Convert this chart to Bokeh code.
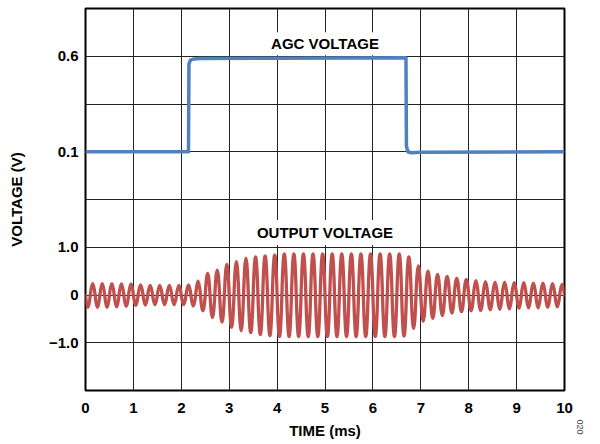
import numpy as np
from bokeh.plotting import figure
from bokeh.models import Range1d, FixedTicker, Label, ColumnDataSource, Title
from bokeh.embed import file_html
from bokeh.resources import INLINE

# ---------------- data ----------------
time_ticks = [0, 1, 2, 3, 4, 5, 6, 7, 8, 9, 10]

out_tick_values = [-1.0, 0.0, 1.0]
out_tick_labels = ["\u22121.0", "0", "1.0"]
agc_tick_values = [0.1, 0.6]
agc_tick_labels = ["0.1", "0.6"]

# AGC voltage trace (ms, V)
agc_time = [0.0, 2.15, 2.16, 2.19, 2.25, 2.4, 4.0, 6.69, 6.70, 6.73, 6.8, 7.0, 10.0]
agc_volt = [0.1, 0.1, 0.56, 0.58, 0.585, 0.588, 0.59, 0.592, 0.13, 0.10, 0.095, 0.097, 0.1]

# Output voltage: 5 kHz carrier, one trough then one peak per 0.2 ms cycle (V)
carrier_period_ms = 0.2
out_troughs = [0.26, 0.26, 0.26, 0.25, 0.24, 0.22, 0.21, 0.20, 0.20, 0.20,
               0.20, 0.23, 0.33, 0.47, 0.57, 0.68, 0.75, 0.79, 0.83, 0.85,
               0.87, 0.87, 0.87, 0.87, 0.87, 0.87, 0.87, 0.87, 0.87, 0.87,
               0.87, 0.87, 0.87, 0.86, 0.70, 0.55, 0.49, 0.43, 0.38, 0.35,
               0.33, 0.32, 0.31, 0.30, 0.29, 0.28, 0.27, 0.27, 0.26, 0.25]
out_peaks = [0.24, 0.24, 0.24, 0.23, 0.23, 0.21, 0.20, 0.20, 0.20, 0.20,
             0.21, 0.29, 0.45, 0.52, 0.64, 0.70, 0.77, 0.80, 0.82, 0.84,
             0.86, 0.86, 0.86, 0.86, 0.86, 0.86, 0.86, 0.86, 0.86, 0.86,
             0.86, 0.86, 0.86, 0.80, 0.61, 0.50, 0.43, 0.39, 0.35, 0.32,
             0.30, 0.28, 0.27, 0.27, 0.26, 0.26, 0.25, 0.25, 0.24, 0.22]

out_range = (-2.0, 6.0)     # output voltage scale (1 V/div)
agc_range = (-1.15, 0.85)   # AGC voltage scale (0.25 V/div)
time_range = (0.0, 10.0)

# ---------------- styling ----------------
FONT = "Liberation Sans"
BLUE = "#4F81BD"
RED = "#C0504D"

p = figure(width=600, height=444, output_backend="svg", toolbar_location=None,
           x_range=Range1d(*time_range), y_range=Range1d(*out_range),
           min_border_left=85, min_border_right=36, min_border_top=8,
           min_border_bottom=54)
p.extra_y_ranges = {"agc": Range1d(*agc_range)}
p.background_fill_color = "white"
p.border_fill_color = "white"
p.outline_line_color = "black"
p.outline_line_width = 2

# half-cycle segments of the output waveform (quadratic curves)
half = carrier_period_ms / 2
x0, x1, cx, cy = [], [], [], []
for k, (q, pk) in enumerate(zip(out_troughs, out_peaks)):
    t = k * carrier_period_ms
    for sgn, amp, start in ((-1, q, t), (1, pk, t + half)):
        x0.append(start)
        x1.append(start + half)
        cx.append(start + half / 2)
        cy.append(2 * sgn * amp)
src = ColumnDataSource(dict(x0=x0, x1=x1, cx=cx, cy=cy,
                            y0=[0.0] * len(x0), y1=[0.0] * len(x0)))
p.quadratic(x0="x0", y0="y0", x1="x1", y1="y1", cx="cx", cy="cy", source=src,
            line_color=RED, line_width=3.3, line_cap="round")

p.line(agc_time, agc_volt, y_range_name="agc", line_color=BLUE, line_width=3.5,
       line_join="round")

# axes
def to_out(v):
    a0, a1 = agc_range
    o0, o1 = out_range
    return (v - a0) / (a1 - a0) * (o1 - o0) + o0

ytick_pos = list(out_tick_values) + [to_out(v) for v in agc_tick_values]
ytick_lab = list(out_tick_labels) + list(agc_tick_labels)

yax = p.yaxis[0]
yax.ticker = FixedTicker(ticks=ytick_pos)
yax.major_label_overrides = {float(k) if not float(k).is_integer() else int(k): v
                             for k, v in zip(ytick_pos, ytick_lab)}
xax = p.xaxis[0]
xax.ticker = FixedTicker(ticks=time_ticks)

for ax in (xax, yax):
    ax.axis_line_color = None
    ax.major_tick_line_color = None
    ax.minor_tick_line_color = None
    ax.major_tick_out = 0
    ax.major_tick_in = 0
    ax.major_label_text_font = FONT
    ax.major_label_text_font_style = "bold"
    ax.major_label_text_font_size = "15px"
    ax.major_label_text_color = "black"
    ax.axis_label_text_font = FONT
    ax.axis_label_text_font_style = "bold"
    ax.axis_label_text_font_size = "15px"
    ax.axis_label_text_color = "black"
xax.major_label_standoff = 12
xax.axis_label = "TIME (ms)"
xax.axis_label_standoff = 6
yax.major_label_standoff = 7
yax.axis_label = "VOLTAGE (V)"
yax.axis_label_standoff = 21

# grid: one line per division
p.xgrid.ticker = FixedTicker(ticks=time_ticks)
p.ygrid.ticker = FixedTicker(ticks=list(np.arange(out_range[0], out_range[1] + 1)))
for g in (p.xgrid[0], p.ygrid[0]):
    g.grid_line_color = "#222222"
    g.grid_line_width = 1

# annotations
lab_kw = dict(text_font=FONT, text_font_style="bold", text_font_size="15px",
              text_color="black", text_align="center", text_baseline="middle")
p.add_layout(Label(x=5.0, y=5.26, text="AGC VOLTAGE", background_fill_color="white",
                   padding=3, **lab_kw))
p.add_layout(Label(x=5.0, y=1.31, text="OUTPUT VOLTAGE", background_fill_color="white",
                   padding=4, **lab_kw))
p.add_layout(Title(text="020", align="right", offset=-44, standoff=24,
                   text_font=FONT, text_font_size="9px", text_font_style="normal",
                   text_color="#444444"), "right")

open("out.html", "w").write(file_html(p, INLINE))
